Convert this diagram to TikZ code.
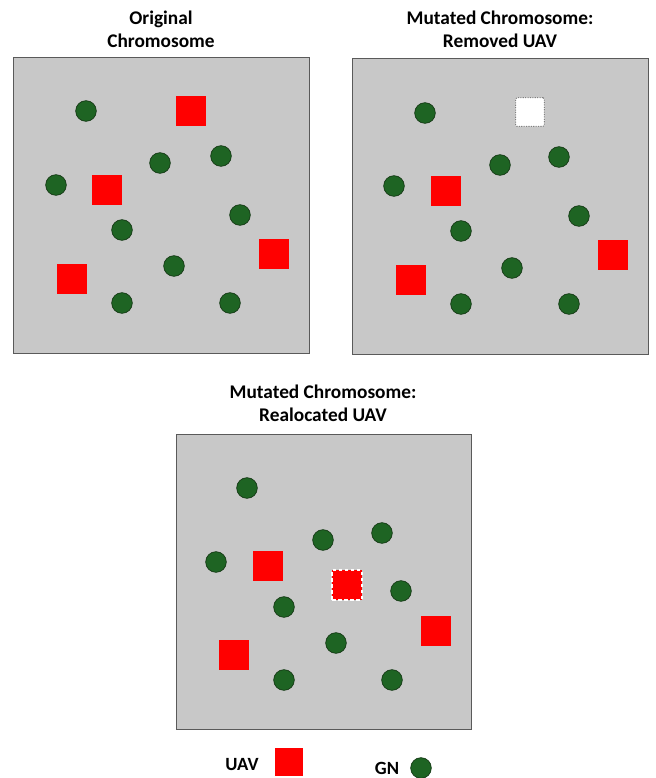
\documentclass[tikz,border=0pt]{standalone}
\usepackage{fontspec}
\setmainfont{Carlito}
\definecolor{boxgray}{RGB}{200,200,200}
\definecolor{boxedge}{RGB}{90,90,90}
\definecolor{gnfill}{RGB}{30,100,35}
\definecolor{gnedge}{RGB}{20,55,20}
\tikzset{
  field/.style={draw=boxedge, fill=boxgray, line width=0.6pt},
  gn/.style={circle, draw=gnedge, fill=gnfill, minimum size=15.5pt, inner sep=0pt, line width=0.5pt},
  uav/.style={rectangle, fill=red, minimum size=22.5pt, inner sep=0pt},
  removed/.style={rectangle, fill=white, draw=gray, densely dotted, line width=0.8pt, minimum size=21.5pt, inner sep=0pt, rounded corners=1pt},
  moved/.style={rectangle, fill=red, draw=white, dashed, dash pattern=on 2.5pt off 2pt, line width=1.5pt, minimum size=22pt, inner sep=0pt},
  ttl/.style={font=\bfseries\fontsize{14.5}{17.3}\selectfont, align=center},
  lbl/.style={font=\bfseries\fontsize{14}{16}\selectfont}
}
\begin{document}
\begin{tikzpicture}[x=0.75pt,y=-0.75pt]
\useasboundingbox (0,0) rectangle (656,778);
% titles
\node[ttl] (t1) at (161,29) {Original\\Chromosome};
\node[ttl] (t2) at (500,29) {Mutated Chromosome:\\Removed UAV};
\node[ttl] (t3) at (323,403) {Mutated Chromosome:\\Realocated UAV};
% fields
\draw[field] (13,57) rectangle (309,353);
\draw[field] (352,58) rectangle (648,354);
\draw[field] (176,434) rectangle (471,729);
% field 1
\foreach \n/\x/\y in {a/86/111,b/160/163,c/221/156,d/56/185,e/122/230,f/240/215,g/174/266,h/122/303,i/230/303}
  \node[gn] (o\n) at (\x,\y) {};
\foreach \n/\x/\y in {a/191/111,b/107/190,c/274/254,d/72/279}
  \node[uav] (ou\n) at (\x,\y) {};
% field 2
\foreach \n/\x/\y in {a/425/113,b/500/165,c/559/157,d/394/186,e/461/231,f/579/216,g/512/268,h/461/304,i/569/304}
  \node[gn] (r\n) at (\x,\y) {};
\node[removed] (rua) at (530,112) {};
\foreach \n/\x/\y in {b/446/191,c/613/255,d/411/280}
  \node[uav] (ru\n) at (\x,\y) {};
% field 3
\foreach \n/\x/\y in {a/247/488,b/323/540,c/382/533,d/216/562,e/284/607,f/401/591,g/336/643,h/284/680,i/392/680}
  \node[gn] (m\n) at (\x,\y) {};
\foreach \n/\x/\y in {b/268/566,c/436/631,d/234/655}
  \node[uav] (mu\n) at (\x,\y) {};
\node[moved] (mua) at (347,585) {};
% legend
\node[lbl] (luavt) at (242,765) {UAV};
\node[uav, minimum size=21pt] (luav) at (289,762) {};
\node[lbl] (lgnt) at (387,768) {GN};
\node[gn] (lgn) at (421,768) {};
\end{tikzpicture}
\end{document}
